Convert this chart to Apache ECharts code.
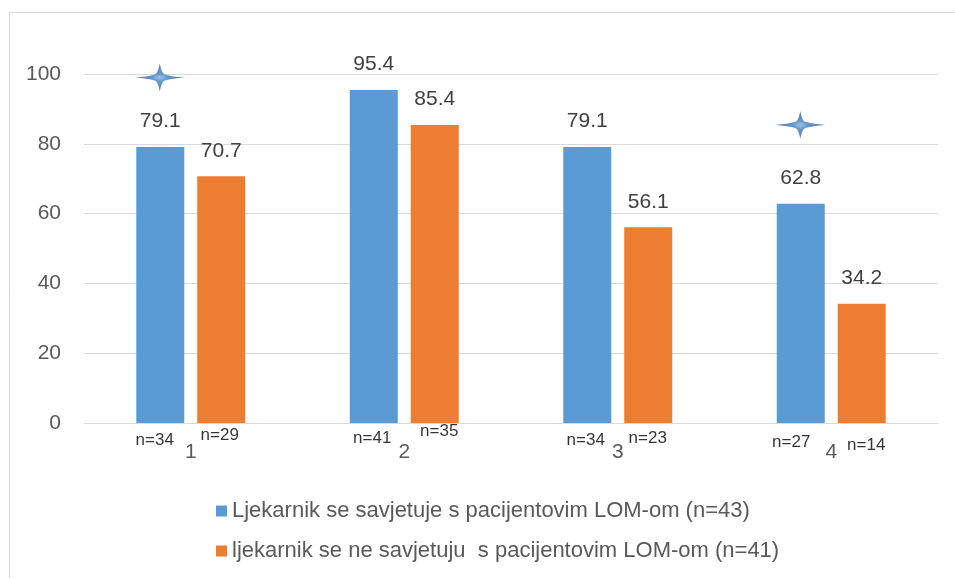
<!DOCTYPE html>
<html>
<head>
<meta charset="utf-8">
<script src="https://cdn.jsdelivr.net/npm/echarts@6/dist/echarts.min.js"></script>
<style>
html,body{margin:0;padding:0;background:#fff;}
#chart{width:955px;height:578px;}
</style>
</head>
<body>
<div id="chart"></div>
<script>
var categories = ['1', '2', '3', '4'];
var seriesNames = ['Ljekarnik se savjetuje s pacijentovim LOM-om (n=43)', 'ljekarnik se ne savjetuju  s pacijentovim LOM-om (n=41)'];
var blueValues = [79.1, 95.4, 79.1, 62.8];
var orangeValues = [70.7, 85.4, 56.1, 34.2];
var blueN = ['n=34', 'n=41', 'n=34', 'n=27'];
var orangeN = ['n=29', 'n=35', 'n=23', 'n=14'];
var starPoints = [[0, 99.0], [3, 85.4]];
var yTicks = [0, 20, 40, 60, 80, 100];

// layout offsets for the hand-placed n labels (pixels relative to category centre / axis)
var blueNOffsets = [[-36, 17], [-32, 15], [-32, 17], [-40, 19]];
var orangeNOffsets = [[29, 12], [35, 8], [30, 15], [35, 22]];

var FONT = '"Liberation Sans", Arial, sans-serif';
var chart = echarts.init(document.getElementById('chart'));

var nData = [];
categories.forEach(function (c, i) {
  nData.push({ value: [i, 0], label: { formatter: blueN[i], offset: blueNOffsets[i] } });
  nData.push({ value: [i, 0], label: { formatter: orangeN[i], offset: orangeNOffsets[i] } });
});

var starPath = 'path://M0,-1 Q0.07,-0.3 0.2,-0.22 Q0.5,-0.06 1,0 Q0.5,0.06 0.2,0.22 Q0.07,0.3 0,1 Q-0.07,0.3 -0.2,0.22 Q-0.5,0.06 -1,0 Q-0.5,-0.06 -0.2,-0.22 Q-0.07,-0.3 0,-1 Z';

chart.setOption({
  backgroundColor: '#fff',
  animation: false,
  textStyle: { fontFamily: FONT },
  graphic: [{
    type: 'rect', left: 7, top: 10, z: -10,
    shape: { width: 1000, height: 600 },
    style: { fill: 'none', stroke: '#d9d9d9', lineWidth: 1 }
  }],
  grid: { left: 84, right: 17, top: 74, bottom: 155 },
  legend: {
    data: seriesNames,
    orient: 'vertical',
    left: 211, top: 495,
    itemWidth: 11, itemHeight: 11, itemGap: 18,
    icon: 'rect',
    textStyle: { fontSize: 22, color: '#595959', fontFamily: FONT }
  },
  xAxis: {
    type: 'category',
    data: categories,
    axisLine: { lineStyle: { color: '#d9d9d9' } },
    axisTick: { show: false },
    axisLabel: { color: '#595959', fontSize: 21, margin: 19, fontFamily: FONT }
  },
  yAxis: {
    type: 'value',
    min: 0, max: 100, interval: 20,
    axisLine: { show: false },
    axisTick: { show: false },
    splitLine: { lineStyle: { color: '#d9d9d9' } },
    axisLabel: {
      color: '#595959', fontSize: 21, margin: 23, fontFamily: FONT,
      formatter: function (v) { return yTicks.indexOf(v) >= 0 ? String(v) : ''; }
    }
  },
  series: [
    {
      name: seriesNames[0], type: 'bar', data: blueValues,
      barWidth: 48, barGap: '27%',
      itemStyle: { color: '#5b9bd5' },
      label: { show: true, position: 'top', distance: 15, color: '#404040', fontSize: 21, fontFamily: FONT }
    },
    {
      name: seriesNames[1], type: 'bar', data: orangeValues,
      barWidth: 48, barGap: '27%',
      itemStyle: { color: '#ed7d31' },
      label: { show: true, position: 'top', distance: 15, color: '#404040', fontSize: 21, fontFamily: FONT }
    },
    {
      name: 'nlabels', type: 'scatter', data: nData,
      symbolSize: 0, silent: true, z: 5,
      label: { show: true, position: 'inside', color: '#000', fontSize: 17, fontFamily: FONT }
    },
    {
      name: 'stars', type: 'scatter', data: starPoints,
      symbol: starPath, symbolSize: [50, 28], symbolOffset: [-31, 0], silent: true, z: 6,
      itemStyle: {
        color: {
          type: 'radial', x: 0.5, y: 0.5, r: 0.5,
          colorStops: [{ offset: 0, color: '#7db5e6' }, { offset: 0.3, color: '#3f7dbd' }, { offset: 1, color: '#2a5a92' }]
        }
      }
    }
  ]
});
</script>
</body>
</html>
